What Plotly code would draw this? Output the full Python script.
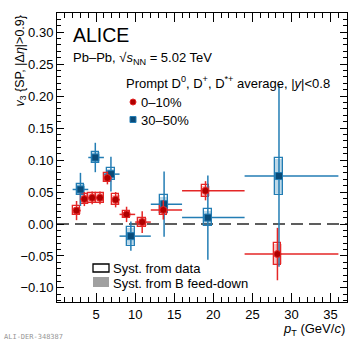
import plotly.graph_objects as go

# ---------------- data ----------------
pt_010 = [2.5, 3.5, 4.5, 5.5, 6.45, 7.5, 8.9, 10.9, 13.6, 19.0, 28.2]
lo_010 = [2, 3, 4, 5, 6, 7, 8, 10, 12, 16, 24]
hi_010 = [3, 4, 5, 6, 7, 8, 10, 12, 16, 24, 36]
v3_010 = [0.021, 0.039, 0.041, 0.041, 0.072, 0.038, 0.015, 0.003, 0.022, 0.052, -0.047]
stat_010 = [0.015, 0.011, 0.010, 0.010, 0.010, 0.012, 0.012, 0.017, 0.015, 0.015, 0.041]
syst_010 = [0.007, 0.008, 0.008, 0.008, 0.007, 0.009, 0.005, 0.007, 0.008, 0.009, 0.017]
fd_010 = [0.006, 0.007, 0.007, 0.007, 0.006, 0.008, 0.004, 0.006, 0.007, 0.008, 0.015]

pt_3050 = [3.0, 4.9, 6.9, 9.45, 13.7, 19.3, 28.4]
lo_3050 = [2, 4, 6, 8, 12, 16, 24]
hi_3050 = [4, 6, 8, 12, 16, 24, 36]
v3_3050 = [0.054, 0.104, 0.078, -0.019, 0.031, 0.010, 0.075]
stat_3050 = [0.026, 0.023, 0.027, 0.023, 0.051, 0.066, 0.142]
syst_3050 = [0.009, 0.009, 0.009, 0.015, 0.014, 0.013, 0.029]
fd_3050 = [0.008, 0.008, 0.008, 0.013, 0.012, 0.011, 0.026]

x_ticks = [5, 10, 15, 20, 25, 30, 35]
y_ticks = [-0.10, -0.05, 0.00, 0.05, 0.10, 0.15, 0.20, 0.25, 0.30]
y_ticklabels = ["\u22120.10", "\u22120.05", "0.00", "0.05", "0.10", "0.15", "0.20", "0.25", "0.30"]

RED = "rgb(228,38,38)"
RED_DARK = "rgb(175,0,0)"
RED_FILL = "rgba(228,60,60,0.30)"
BLUE = "rgb(35,125,180)"
BLUE_DARK = "rgb(10,75,120)"
BLUE_FILL = "rgba(35,125,180,0.30)"
FONT = "Liberation Sans, Arial, Helvetica, sans-serif"

fig = go.Figure()

def add_series(pt, lo, hi, v, stat, syst, fd, col, dark, fill, symbol, size, name):
    # feed-down systematics (filled)
    fig.add_trace(go.Bar(x=pt, base=[a - b for a, b in zip(v, fd)], y=[2 * b for b in fd],
                         width=1.1, marker=dict(color=fill, line=dict(width=0)),
                         showlegend=False, hoverinfo="skip"))
    # data systematics (open)
    fig.add_trace(go.Bar(x=pt, base=[a - b for a, b in zip(v, syst)], y=[2 * b for b in syst],
                         width=0.95, marker=dict(color="rgba(0,0,0,0)", line=dict(color=col, width=1.3)),
                         showlegend=False, hoverinfo="skip"))
    # statistical error bars and markers
    fig.add_trace(go.Scatter(
        x=pt, y=v, mode="markers", name=name,
        marker=dict(symbol=symbol, size=size, color=dark, line=dict(color=col, width=1)),
        error_y=dict(type="data", array=stat, color=col, thickness=1.5, width=0),
        error_x=dict(type="data", symmetric=False,
                     array=[h - p for h, p in zip(hi, pt)],
                     arrayminus=[p - l for p, l in zip(pt, lo)],
                     color=col, thickness=1.5, width=0),
        showlegend=False))

add_series(pt_3050, lo_3050, hi_3050, v3_3050, stat_3050, syst_3050, fd_3050,
           BLUE, BLUE_DARK, BLUE_FILL, "square", 7, "30\u201350%")
add_series(pt_010, lo_010, hi_010, v3_010, stat_010, syst_010, fd_010,
           RED, RED_DARK, RED_FILL, "circle", 7, "0\u201310%")

# plot area in pixels
L, R, T, B = 57, 347, 13, 302
W, H = 360, 344

def px(x):
    return (x - L) / (R - L)

def py(y):
    return (B - y) / (B - T)

fig.update_layout(
    width=W, height=H,
    margin=dict(l=L, r=W - R, t=T, b=H - B, pad=0),
    paper_bgcolor="white", plot_bgcolor="white",
    barmode="overlay", bargap=0,
    font=dict(family=FONT, size=13, color="black"),
    showlegend=False,
    title=dict(text="Prompt D<sup>0</sup>, D<sup>+</sup>, D<sup>*+</sup> average, |<i>y</i>|&lt;0.8",
               xref="paper", yref="paper", x=px(126), y=py(83),
               xanchor="left", yanchor="middle", pad=dict(t=0, b=0, l=0, r=0),
               font=dict(size=13, family=FONT, color="black")),
)

fig.update_xaxes(range=[0, 37.1], tickvals=x_ticks, ticktext=[str(t) for t in x_ticks],
                 ticks="inside", ticklen=9, tickwidth=1, tickcolor="black",
                 minor=dict(dtick=1, ticks="inside", ticklen=5, tickcolor="black", showgrid=False),
                 showline=True, linecolor="black", linewidth=1, mirror="allticks",
                 showgrid=False, zeroline=False, tickfont=dict(size=13))
fig.update_yaxes(range=[-0.122, 0.33], tickvals=y_ticks, ticktext=y_ticklabels,
                 ticks="inside", ticklen=7, tickwidth=1, tickcolor="black",
                 minor=dict(dtick=0.01, tick0=0, ticks="inside", ticklen=4, tickcolor="black", showgrid=False),
                 showline=True, linecolor="black", linewidth=1, mirror="allticks",
                 showgrid=False, zeroline=False, tickfont=dict(size=13))

# zero reference line
fig.add_shape(type="line", xref="paper", yref="y", x0=0, x1=1, y0=0, y1=0,
              line=dict(color="rgb(40,40,40)", width=1.5, dash="12px,6px"), layer="below")

ann = []
def text(x, y, s, size=12, xa="left", ya="middle", angle=0, color="black", family=FONT):
    ann.append(dict(x=px(x), y=py(y), xref="paper", yref="paper", text=s, showarrow=False,
                    xanchor=xa, yanchor=ya, textangle=angle,
                    font=dict(size=size, color=color, family=family)))

text(71, 35, "ALICE", size=19.5)
text(71, 58, "Pb\u2013Pb, \u221a<i>s</i><sub>NN</sub> = 5.02 TeV", size=13)
text(139, 102, "0\u201310%", size=13)
text(139, 120, "30\u201350%", size=13)
text(111, 268, "Syst. from data", size=13)
text(111, 283, "Syst. from B feed-down", size=13)
text(347, 329, "<i>p</i><sub>T</sub> (GeV/<i>c</i>)", size=13, xa="right")
text(20, 14, "<i>v</i><sub>3</sub> {SP, |\u0394<i>\u03b7</i>|>0.9}", size=12.5, xa="center", ya="top", angle=-90)
text(2, 337, "ALI-DER-348387", size=7, color="rgb(150,150,150)", family="DejaVu Sans Mono, monospace")
fig.update_layout(annotations=ann)

# legend markers
fig.add_shape(type="circle", xref="paper", yref="paper",
              x0=px(130), x1=px(136), y0=py(105), y1=py(99),
              fillcolor=RED_DARK, line=dict(color=RED, width=1))
fig.add_shape(type="rect", xref="paper", yref="paper",
              x0=px(130), x1=px(136), y0=py(122.5), y1=py(116.5),
              fillcolor=BLUE_DARK, line=dict(color=BLUE, width=1))
fig.add_shape(type="rect", xref="paper", yref="paper",
              x0=px(93), x1=px(109), y0=py(272), y1=py(264),
              fillcolor="rgba(0,0,0,0)", line=dict(color="black", width=1.3))
fig.add_shape(type="rect", xref="paper", yref="paper",
              x0=px(93), x1=px(109), y0=py(287), y1=py(277),
              fillcolor="rgb(160,160,160)", line=dict(width=0))

fig.write_html("out.html", config={"displayModeBar": False},
               post_script="document.body.style.margin='0px';document.body.style.padding='0px';")
